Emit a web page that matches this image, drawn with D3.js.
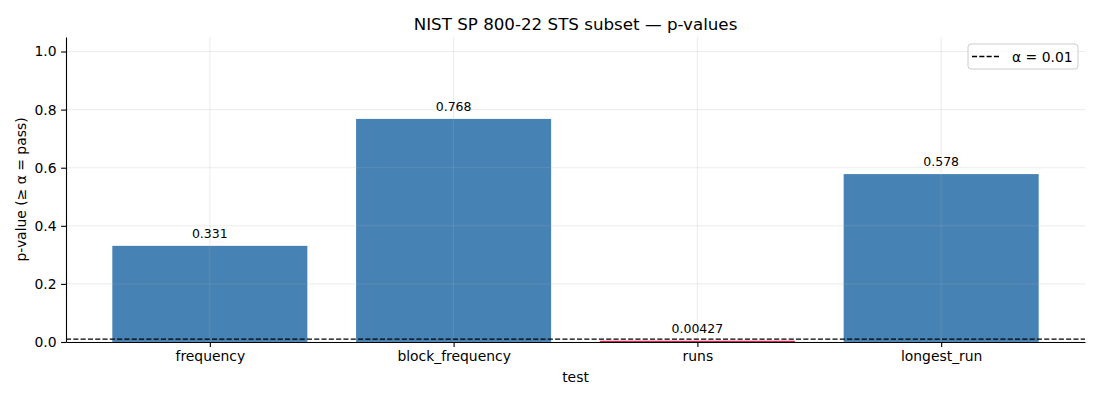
<!DOCTYPE html>
<html>
<head>
<meta charset="utf-8">
<script src="https://cdn.jsdelivr.net/npm/d3@7"></script>
<style>
  body { margin: 0; background: #fff; }
  text { font-family: "DejaVu Sans", sans-serif; fill: #000; }
</style>
</head>
<body>
<div id="chart"></div>
<script>
// values
var tests = ['frequency', 'block_frequency', 'runs', 'longest_run'];
var pValues = [0.331, 0.768, 0.00427, 0.578];
var pLabels = ['0.331', '0.768', '0.00427', '0.578'];
var yTicks = [0.0, 0.2, 0.4, 0.6, 0.8, 1.0];
var alpha = 0.01;

var width = 1100, height = 400;
var margin = { top: 37, right: 15, bottom: 58, left: 66 };

var svg = d3.select('#chart')
    .append('svg')
    .attr('width', width)
    .attr('height', height);

var x = d3.scaleLinear()
    .domain([-0.59, 3.59])
    .range([margin.left, width - margin.right]);

var y = d3.scaleLinear()
    .domain([0, 1.05])
    .range([height - margin.bottom, margin.top]);

var barWidth = x(0.8) - x(0);

// bars
svg.append('g').selectAll('rect')
    .data(tests)
    .enter().append('rect')
    .attr('x', function(d, i) { return x(i - 0.4); })
    .attr('y', function(d, i) { return y(pValues[i]); })
    .attr('width', barWidth)
    .attr('height', function(d, i) { return y(0) - y(pValues[i]); })
    .attr('fill', function(d, i) { return pValues[i] < alpha ? 'crimson' : 'steelblue'; });

// grid (drawn over the bars)
var grid = svg.append('g')
    .attr('stroke', '#b0b0b0')
    .attr('stroke-opacity', 0.3)
    .attr('stroke-width', 0.8);
grid.selectAll('.hgrid')
    .data(yTicks)
    .enter().append('line')
    .attr('x1', margin.left).attr('x2', width - margin.right)
    .attr('y1', function(d) { return y(d); })
    .attr('y2', function(d) { return y(d); });
grid.selectAll('.vgrid')
    .data(tests)
    .enter().append('line')
    .attr('x1', function(d, i) { return x(i); })
    .attr('x2', function(d, i) { return x(i); })
    .attr('y1', margin.top).attr('y2', y(0));

// alpha threshold
svg.append('line')
    .attr('x1', margin.left).attr('x2', width - margin.right)
    .attr('y1', y(alpha)).attr('y2', y(alpha))
    .attr('stroke', '#000')
    .attr('stroke-width', 1.3)
    .attr('stroke-dasharray', '5.1,2.2');

// bar value labels
svg.append('g').selectAll('text')
    .data(tests)
    .enter().append('text')
    .attr('x', function(d, i) { return x(i); })
    .attr('y', function(d, i) { return y(pValues[i]) - 8; })
    .attr('text-anchor', 'middle')
    .style('font-size', '12.5px')
    .text(function(d, i) { return pLabels[i]; });

// axes
var xAxis = svg.append('g')
    .attr('transform', 'translate(0,' + y(0) + ')')
    .call(d3.axisBottom(x).tickValues(d3.range(tests.length))
        .tickFormat(function(i) { return tests[i]; })
        .tickSize(4.9).tickPadding(4.5).tickSizeOuter(0));

var yAxis = svg.append('g')
    .attr('transform', 'translate(' + margin.left + ',0)')
    .call(d3.axisLeft(y).tickValues(yTicks)
        .tickFormat(d3.format('.1f'))
        .tickSize(4.9).tickPadding(4.5).tickSizeOuter(0));

[xAxis, yAxis].forEach(function(ax) {
    ax.select('.domain').attr('stroke', '#000').attr('stroke-width', 1.1);
    ax.selectAll('.tick line').attr('stroke', '#000').attr('stroke-width', 1.1);
    ax.selectAll('.tick text')
        .style('font-family', '"DejaVu Sans", sans-serif')
        .style('font-size', '13.9px')
        .attr('fill', '#000');
});

// titles
svg.append('text')
    .attr('x', (margin.left + width - margin.right) / 2)
    .attr('y', 30)
    .attr('text-anchor', 'middle')
    .style('font-size', '16.7px')
    .text('NIST SP 800-22 STS subset — p-values');

svg.append('text')
    .attr('x', (margin.left + width - margin.right) / 2)
    .attr('y', 382)
    .attr('text-anchor', 'middle')
    .style('font-size', '13.9px')
    .text('test');

svg.append('text')
    .attr('transform', 'translate(26,' + (margin.top + y(0)) / 2 + ') rotate(-90)')
    .attr('text-anchor', 'middle')
    .style('font-size', '13.9px')
    .text('p-value (≥ α = pass)');

// legend
var legend = svg.append('g').attr('transform', 'translate(968,44)');
legend.append('rect')
    .attr('width', 110).attr('height', 25)
    .attr('rx', 3)
    .attr('fill', '#fff').attr('fill-opacity', 0.8)
    .attr('stroke', '#ccc');
legend.append('line')
    .attr('x1', 4).attr('x2', 32)
    .attr('y1', 12.5).attr('y2', 12.5)
    .attr('stroke', '#000')
    .attr('stroke-width', 1.3)
    .attr('stroke-dasharray', '5.1,2.2');
legend.append('text')
    .attr('x', 44).attr('y', 17.5)
    .style('font-size', '13.9px')
    .text('α = 0.01');
</script>
</body>
</html>
